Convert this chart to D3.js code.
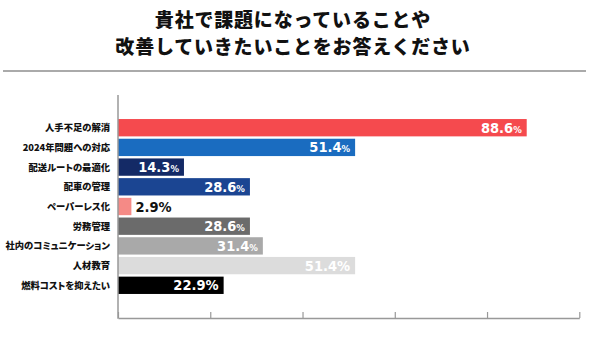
<!DOCTYPE html>
<html><head><meta charset="utf-8">
<script src="https://cdn.jsdelivr.net/npm/d3@7"></script>
<style>body{margin:0;background:#fff}svg{display:block}.cat{font-feature-settings:"palt"}</style>
</head><body><svg id="c" width="600" height="364"></svg>
<script>
const titleLines = ["貴社で課題になっていることや", "改善していきたいことをお答えください"];
const categories = ["人手不足の解消","2024年問題への対応","配送ルートの最適化","配車の管理","ペーパーレス化","労務管理","社内のコミュニケーション","人材教育","燃料コストを抑えたい"];
const values = [88.6, 51.4, 14.3, 28.6, 2.9, 28.6, 31.4, 51.4, 22.9];
const colors = ["#f54a4e","#1a6cc0","#142a66","#1b4592","#f58a86","#6b6b6b","#a9a9a9","#dcdcdc","#000000"];
const xTicks = [0, 20, 40, 60, 80, 100];

const svg = d3.select("#c");
const jp = "'Noto Sans CJK JP','Noto Sans',sans-serif";
const num = "'DejaVu Sans Condensed','DejaVu Sans',sans-serif";

svg.selectAll("text.title").data(titleLines).join("text")
  .attr("x", 293).attr("y", (d,i)=>27+i*27)
  .attr("text-anchor","middle").attr("font-family",jp).attr("font-weight",900)
  .attr("font-size",19).attr("letter-spacing",0.8).attr("fill","#111").text(d=>d);

svg.append("line").attr("x1",3).attr("x2",586).attr("y1",71).attr("y2",71)
  .attr("stroke","#aaaaaa").attr("stroke-width",2);

const x = d3.scaleLinear().domain([0,100]).range([118,579.3]);
const y = d3.scaleBand().domain(categories).range([95,318]).paddingInner(0.12).paddingOuter(1.22);

svg.selectAll("rect.bar").data(values).join("rect")
  .attr("x", x(0)).attr("y",(d,i)=>y(categories[i]))
  .attr("width", d=>x(d)-x(0)).attr("height", y.bandwidth())
  .attr("fill",(d,i)=>colors[i]);

const gx = svg.append("g").attr("transform","translate(0,318)")
  .call(d3.axisBottom(x).tickValues(xTicks).tickSizeInner(-6).tickSizeOuter(0).tickFormat(""));
gx.select(".domain").attr("stroke","#999").attr("stroke-width",1.5);
gx.selectAll(".tick line").attr("stroke","#999").attr("stroke-width",1.2);
svg.append("line").attr("x1",118).attr("x2",118).attr("y1",95).attr("y2",318.7)
  .attr("stroke","#999").attr("stroke-width",1.5);

svg.selectAll("text.cat").data(categories).join("text").attr("class","cat")
  .attr("x",110).attr("y",d=>y(d)+y.bandwidth()/2+3.5)
  .attr("text-anchor","end").attr("font-family",jp).attr("font-weight",900)
  .attr("font-size",9.3).attr("fill","#111").text(d=>d);

const bigPct = new Set([4,7,8]);
values.forEach((v,i)=>{
  const inside = v > 10;
  const t = svg.append("text")
    .attr("x", inside ? x(v)-5 : x(v)+4)
    .attr("y", y(categories[i])+y.bandwidth()/2+5)
    .attr("text-anchor", inside ? "end" : "start")
    .attr("font-family",num).attr("font-weight",700).attr("font-size",14.5)
    .attr("fill", inside ? "#fff" : "#111");
  t.append("tspan").text(v.toFixed(1));
  t.append("tspan").attr("font-size", bigPct.has(i)?14.5:9.5).text("%");
});
</script></body></html>
